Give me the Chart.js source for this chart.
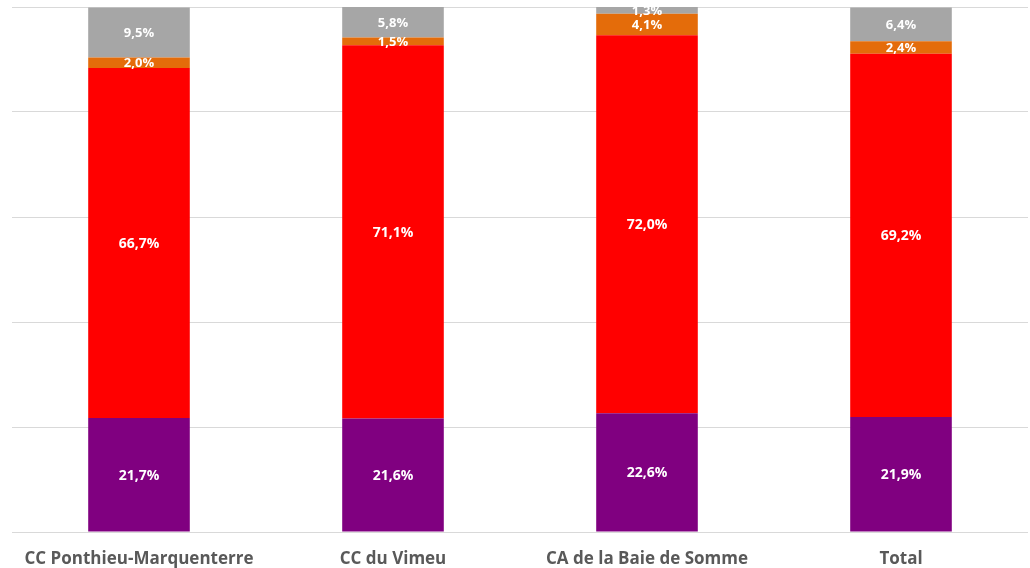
<!DOCTYPE html>
<html>
<head>
<meta charset="utf-8">
<script src="https://cdn.jsdelivr.net/npm/chart.js@4/dist/chart.umd.min.js"></script>
<style>
  html, body { margin: 0; padding: 0; background: #fff; }
  #wrap { width: 1030px; height: 568px; position: relative; }
</style>
</head>
<body>
<div id="wrap"><canvas id="chart"></canvas></div>
<script>
const categories = ['CC Ponthieu-Marquenterre', 'CC du Vimeu', 'CA de la Baie de Somme', 'Total'];
const purpleShare = [21.7, 21.6, 22.6, 21.9];
const redShare = [66.7, 71.1, 72.0, 69.2];
const orangeShare = [2.0, 1.5, 4.1, 2.4];
const greyShare = [9.5, 5.8, 1.3, 6.4];
const yTicks = [0, 20, 40, 60, 80, 100];

const fmt = v => v.toFixed(1).replace('.', ',') + '%';

// white value labels centred in each stacked segment
const segmentLabels = {
  id: 'segmentLabels',
  afterDatasetsDraw(chart) {
    const ctx = chart.ctx;
    ctx.save();
    ctx.fillStyle = '#ffffff';
    ctx.textAlign = 'center';
    ctx.textBaseline = 'middle';
    chart.data.datasets.forEach((ds, i) => {
      const meta = chart.getDatasetMeta(i);
      ctx.font = 'bold ' + (ds.labelSize || 14) + 'px "Open Sans", sans-serif';
      meta.data.forEach((bar, j) => {
        const y = (bar.y + bar.base) / 2;
        ctx.fillText(fmt(ds.data[j]), bar.x, y + 1);
      });
    });
    ctx.restore();
  }
};

new Chart(document.getElementById('chart'), {
  type: 'bar',
  data: {
    labels: categories,
    datasets: [
      { label: 'violet', data: purpleShare, backgroundColor: '#800080' },
      { label: 'rouge', data: redShare, backgroundColor: '#ff0000' },
      { label: 'orange', data: orangeShare, backgroundColor: '#e46c0a', labelSize: 13 },
      { label: 'gris', data: greyShare, backgroundColor: '#a6a6a6', labelSize: 13 }
    ]
  },
  options: {
    responsive: true,
    maintainAspectRatio: false,
    animation: false,
    layout: { padding: { left: 12, right: 2, top: 7, bottom: -11 } },
    datasets: { bar: { categoryPercentage: 0.4, barPercentage: 1.0 } },
    plugins: {
      legend: { display: false },
      tooltip: { enabled: false }
    },
    scales: {
      x: {
        stacked: true,
        grid: { display: false },
        border: { display: false },
        ticks: {
          color: '#595959',
          padding: 11,
          font: { family: '"Open Sans", sans-serif', size: 17, weight: 'bold', lineHeight: 1.0 }
        }
      },
      y: {
        stacked: true,
        min: 0,
        max: 100,
        afterBuildTicks: axis => { axis.ticks = yTicks.map(v => ({ value: v })); },
        grid: { color: '#d9d9d9', lineWidth: 1, drawTicks: false },
        border: { display: false },
        ticks: { display: false }
      }
    }
  },
  plugins: [segmentLabels]
});
</script>
</body>
</html>
